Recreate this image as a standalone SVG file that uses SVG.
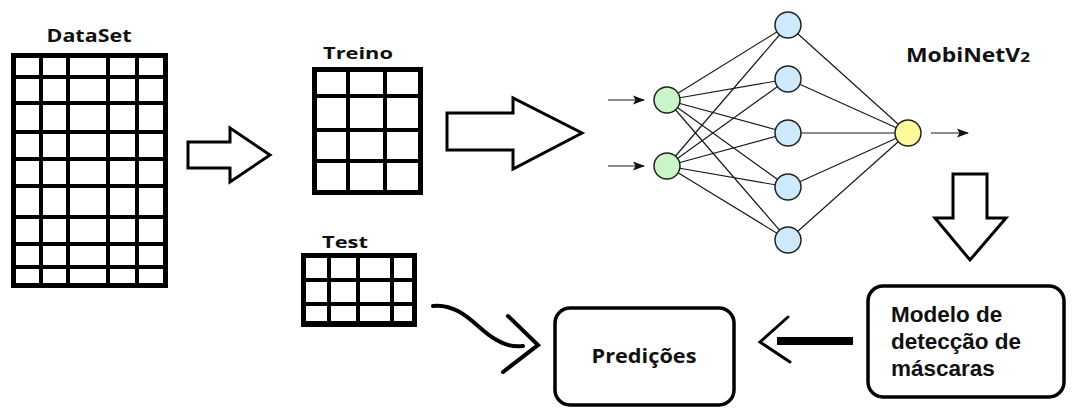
<svg xmlns="http://www.w3.org/2000/svg" width="1083" height="409" viewBox="0 0 1083 409">
<style>
.t{font-family:"Open Sans","DejaVu Sans",sans-serif;font-weight:700;fill:#111}
.m{font-family:"Liberation Sans",Arial,sans-serif;font-weight:700;fill:#111;font-size:22.5px}
.go{fill:#fff;stroke:#000;stroke-width:5}
.gl{stroke:#000;stroke-width:4;fill:none}
.ha{fill:#fff;stroke:#000;stroke-width:3;stroke-linejoin:miter}
.e{stroke:#1a1a1a;stroke-width:1.2}
.n{stroke:#222;stroke-width:1.5}
.box{fill:#fff;stroke:#000;stroke-width:3.5}
</style>
<defs>
<marker id="ah" viewBox="0 0 12 10" refX="11" refY="5" markerWidth="12" markerHeight="10" markerUnits="userSpaceOnUse" orient="auto"><path d="M0,0.5 L12,5 L0,9.5 L2.5,5 Z" fill="#111"/></marker>
</defs>
<rect width="1083" height="409" fill="#fff"/>

<g id="dataset">
<text class="t" x="89" y="42" font-size="17" text-anchor="middle" textLength="85" lengthAdjust="spacingAndGlyphs">DataSet</text>
<rect class="go" x="13.5" y="55.5" width="152" height="230"/>
<path class="gl" d="M41,55V286M68,55V286M108,55V286M137,55V286M13,77H166M13,103H166M13,132H166M13,159H166M13,186H166M13,217H166M13,244H166M13,267H166"/>
</g>

<g id="treino">
<text class="t" x="358" y="59" font-size="16" text-anchor="middle" textLength="70" lengthAdjust="spacingAndGlyphs">Treino</text>
<rect class="go" x="314.5" y="69.5" width="106" height="123"/>
<path class="gl" d="M348,69V193M385,69V193M314,96H421M314,130H421M314,161H421"/>
</g>

<g id="test">
<text class="t" x="345" y="248" font-size="16" text-anchor="middle" textLength="46" lengthAdjust="spacingAndGlyphs">Test</text>
<rect class="go" x="303.5" y="255.5" width="111" height="69"/>
<rect x="301" y="321" width="116" height="6" fill="#000"/>
<path class="gl" d="M329,255V325M358,255V325M392,255V325M303,280H415M303,304H415"/>
</g>

<g id="network">
<g id="edges">
<path class="e" d="M667,100L788,25M667,100L788,79M667,100L788,133M667,100L788,187M667,100L788,240M667,166L788,25M667,166L788,79M667,166L788,133M667,166L788,187M667,166L788,240M788,25L908,133M788,79L908,133M788,133L908,133M788,187L908,133M788,240L908,133"/>
<line class="e" x1="608" y1="100" x2="644" y2="100" marker-end="url(#ah)"/>
<line class="e" x1="608" y1="166" x2="644" y2="166" marker-end="url(#ah)"/>
<line class="e" x1="931" y1="133" x2="968" y2="133" marker-end="url(#ah)"/>
</g>
<circle class="n" cx="667" cy="100" r="13" fill="#c9f5c9"/>
<circle class="n" cx="667" cy="166" r="13" fill="#c9f5c9"/>
<circle class="n" cx="788" cy="25" r="13" fill="#cde9fb"/>
<circle class="n" cx="788" cy="79" r="13" fill="#cde9fb"/>
<circle class="n" cx="788" cy="133" r="13" fill="#cde9fb"/>
<circle class="n" cx="788" cy="187" r="13" fill="#cde9fb"/>
<circle class="n" cx="788" cy="240" r="13" fill="#cde9fb"/>
<circle class="n" cx="908" cy="133" r="13" fill="#fdfa9c"/>
</g>

<g id="mobinet">
<text class="t" x="906" y="62" font-size="20" textLength="124" lengthAdjust="spacingAndGlyphs">MobiNetV<tspan font-size="15">2</tspan></text>
</g>

<g id="predicoes">
<rect class="box" x="555" y="308" width="179" height="97" rx="15"/>
<text class="t" x="644" y="363" font-size="19" text-anchor="middle" textLength="105" lengthAdjust="spacingAndGlyphs">Predições</text>
</g>

<g id="modelo">
<rect class="box" x="868" y="286" width="196" height="111" rx="15"/>
<text class="m" x="891" y="322">Modelo de</text>
<text class="m" x="891" y="349">detecção de</text>
<text class="m" x="891" y="376">máscaras</text>
</g>

<g id="connectors">
<polygon class="ha" points="188,142 230,142 230,128 270,155 230,182 230,168 188,168"/>
<polygon class="ha" points="447,113 513,113 513,98 582,133 513,169 513,150 447,150"/>
<polygon class="ha" points="953,174 987,174 987,218 1006,218 970,260 935,218 953,218"/>
<path d="M433,306 C462,303 478,330 495,339 C505,345 512,347 523,346" fill="none" stroke="#000" stroke-width="4" stroke-linecap="round"/>
<path d="M508,316 L538,345 L503,372" fill="none" stroke="#000" stroke-width="4" stroke-linecap="round"/>
<rect x="777" y="337" width="76" height="8" fill="#000"/>
<path d="M788,317 L760,342 L790,362" fill="none" stroke="#000" stroke-width="3" stroke-linecap="round"/>
</g>
</svg>
